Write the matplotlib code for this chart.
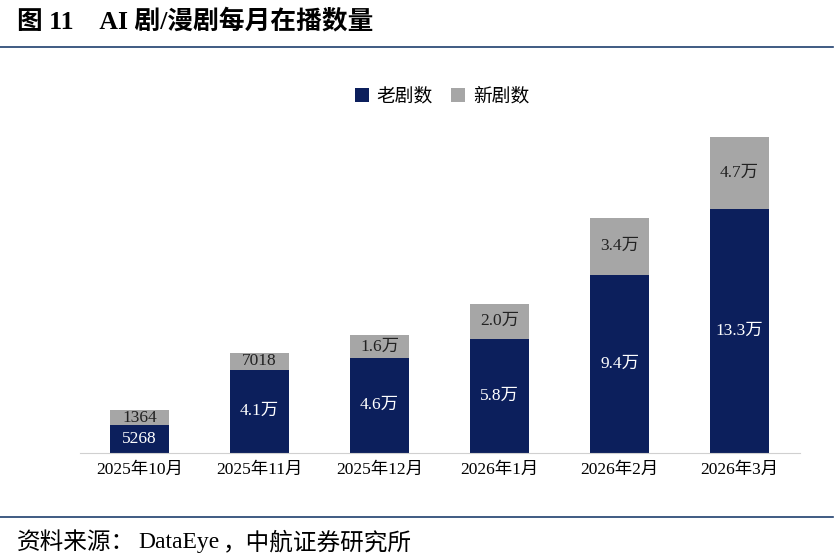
import matplotlib.pyplot as plt
import numpy as np

plt.rcParams['font.family'] = ['Liberation Serif', 'Noto Sans CJK SC', 'DejaVu Sans']

# 月份
months = ['2025年10月', '2025年11月', '2025年12月', '2026年1月', '2026年2月', '2026年3月']
# 柱子高度（万，按图中柱长估读，原图并非严格按比例）
old_height = [1.50, 4.54, 5.19, 6.23, 9.73, 13.3]
new_height = [0.82, 0.90, 1.23, 1.91, 3.11, 3.96]
# 数据标签
old_labels = ['5268', '4.1万', '4.6万', '5.8万', '9.4万', '13.3万']
new_labels = ['1364', '7018', '1.6万', '2.0万', '3.4万', '4.7万']

navy = '#0c1f5c'
gray = '#a6a6a6'
line_color = '#1f3f6e'

fig = plt.figure(figsize=(8.37, 5.58), dpi=100)
ax = fig.add_axes([0.095, 0.189, 0.8602, 0.59])

x = np.arange(len(months))
ax.bar(x, old_height, width=0.49, color=navy, label='老剧数')
ax.bar(x, new_height, width=0.49, bottom=old_height, color=gray, label='新剧数')

for i in range(len(months)):
    ax.text(x[i], old_height[i] / 2, old_labels[i], ha='center', va='center',
            color='white', fontsize=12.5)
    ax.text(x[i], old_height[i] + new_height[i] / 2, new_labels[i], ha='center',
            va='center', color='#222222', fontsize=12.5)

ax.set_xlim(-0.5, 5.5)
ax.set_ylim(0, 18)
ax.set_xticks(x)
ax.set_xticklabels(months, fontsize=12.5)
ax.tick_params(axis='x', length=0, pad=7)
ax.set_yticks([])
for s in ['top', 'right', 'left']:
    ax.spines[s].set_visible(False)
ax.spines['bottom'].set_color('#d0d0d0')

ax.legend(loc='upper center', ncol=2, frameon=False, handlelength=0.75, handleheight=0.75,
          handletextpad=0.4, columnspacing=1.0, borderaxespad=0,
          prop={'family': ['Noto Sans CJK SC'], 'size': 13.5})
leg = ax.get_legend()
leg.set_bbox_to_anchor((0.528, 0.86), transform=fig.transFigure)

# 标题
fig.text(0.02, 0.963, '图 11　AI 剧/漫剧每月在播数量', fontsize=18.5, fontweight='bold',
         va='center', family=['Liberation Serif', 'Noto Sans CJK SC'])
fig.add_artist(plt.Line2D([0.0, 0.995], [0.916, 0.916], color=line_color, lw=1.2))
fig.add_artist(plt.Line2D([0.0, 0.995], [0.073, 0.073], color=line_color, lw=1.2))

# 来源，分段写以便中文标点用中文字体
parts = [('资料来源：', ['Noto Sans CJK SC']),
         ('DataEye', ['Liberation Serif']),
         ('，中航证券研究所', ['Noto Sans CJK SC'])]
fig.canvas.draw()
renderer = fig.canvas.get_renderer()
xpos = 0.02
for s, fam in parts:
    t = fig.text(xpos, 0.028, s, fontsize=17, va='center', family=fam)
    bb = t.get_window_extent(renderer)
    xpos += bb.width / fig.bbox.width + 0.004

plt.savefig('out.png', dpi=100)
